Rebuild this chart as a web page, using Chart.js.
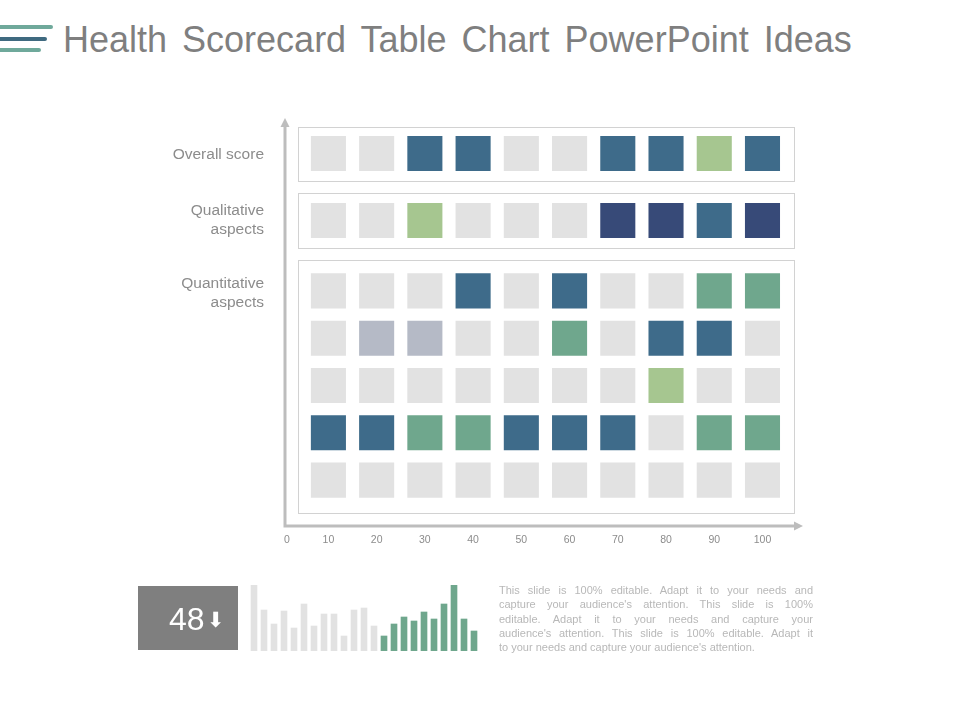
<!DOCTYPE html>
<html>
<head>
<meta charset="utf-8">
<title>Health Scorecard</title>
<script src="https://cdn.jsdelivr.net/npm/chart.js@4"></script>
<style>
    body { margin: 0; background: #fff; font-family: "Liberation Sans", Arial, sans-serif; }
    #page { position: relative; width: 960px; height: 720px; overflow: hidden; }
    canvas { position: absolute; }
    #title { position: absolute; left: 63px; top: 19px; font-size: 36px; line-height: 42px; color: #7f7f7f; word-spacing: 5px; white-space: nowrap; }
    .bar { position: absolute; left: 0; height: 4px; border-radius: 0 2px 2px 0; }
    #kpi { position: absolute; left: 138px; top: 586px; width: 100px; height: 64px; background: #7f7f7f; color: #fff; }
    #kpi b { position: absolute; left: 31px; top: 16px; font-weight: normal; font-size: 32px; line-height: 34px; }
    #kpi i { position: absolute; left: 69px; top: 24px; font: normal 21px/20px "DejaVu Sans"; }
    #note { position: absolute; left: 499px; top: 583px; width: 314px; font-size: 11px; line-height: 14.3px; color: #b8b8b8; }
    #note div { text-align: justify; text-align-last: justify; white-space: nowrap; }
    #note div:last-child { text-align-last: left; }
</style>
</head>
<body>
<div id="page">
    <div class="bar" style="top:25px;width:53px;background:#6fa99b"></div>
    <div class="bar" style="top:37px;width:47px;background:#3f6a80"></div>
    <div class="bar" style="top:48px;width:41px;background:#6fa99b"></div>
    <div id="title">Health Scorecard Table Chart PowerPoint Ideas</div>
    <canvas id="scoreChart" width="960" height="720" style="left:0;top:0"></canvas>
    <div id="kpi"><b>48</b><i>⬇</i></div>
    <canvas id="trendChart" width="230" height="66" style="left:249px;top:585px"></canvas>
    <div id="note">
        <div>This slide is 100% editable. Adapt it to your needs and</div>
        <div>capture your audience's attention. This slide is 100%</div>
        <div>editable. Adapt it to your needs and capture your</div>
        <div>audience's attention. This slide is 100% editable. Adapt it</div>
        <div>to your needs and capture your audience's attention.</div>
    </div>
</div>
<script>
// Data
const columns = [10, 20, 30, 40, 50, 60, 70, 80, 90, 100];
const xTickLabels = ["0", "10", "20", "30", "40", "50", "60", "70", "80", "90", "100"];
const overallLabel = "Overall score";
const qualitativeLabel = ["Qualitative", "aspects"];
const quantitativeLabel = ["Quantitative", "aspects"];

// G grey, B blue, N navy, T teal, L light green, S slate
const overallRow = ["G", "G", "B", "B", "G", "G", "B", "B", "L", "B"];
const qualitativeRow = ["G", "G", "L", "G", "G", "G", "N", "N", "B", "N"];
const quantitativeRows = [
    ["G", "G", "G", "B", "G", "B", "G", "G", "T", "T"],
    ["G", "S", "S", "G", "G", "T", "G", "B", "B", "G"],
    ["G", "G", "G", "G", "G", "G", "G", "L", "G", "G"],
    ["B", "B", "T", "T", "B", "B", "B", "G", "T", "T"],
    ["G", "G", "G", "G", "G", "G", "G", "G", "G", "G"]
];

const trendGrey = [66, 41, 27, 40, 23, 47, 25, 37, 37, 15, 41, 43, 25];
const trendGreen = [15, 27, 34, 30, 39, 32, 47, 66, 32, 20];

const cellColors = { G: "#e2e2e2", B: "#3e6b8a", N: "#374a78", T: "#6fa78d", L: "#a6c690", S: "#b5bac6" };

// Cells
function rowPoints(codes, y) {
    return codes.map((code, i) => ({ x: columns[i], y: y }));
}

function rowDataset(codes, y, yAxisID) {
    return {
        data: rowPoints(codes, y),
        yAxisID: yAxisID,
        pointStyle: "rect",
        pointRadius: 24.8,
        pointBorderWidth: 0,
        pointBackgroundColor: codes.map(code => cellColors[code])
    };
}

const datasets = [
    rowDataset(overallRow, overallLabel, "yOverall"),
    rowDataset(qualitativeRow, "Qualitative", "yQualitative")
];
quantitativeRows.forEach((codes, i) => datasets.push(rowDataset(codes, i, "yQuantitative")));

// Panels and arrow axes
const framePlugin = {
    id: "frame",
    beforeDatasetsDraw(chart) {
        const { ctx, chartArea, scales } = chart;
        const left = Math.round(scales.x.getPixelForValue(columns[0]) - 30) + 0.5;
        const right = Math.round(scales.x.getPixelForValue(columns[9]) + 32) + 0.5;
        const panels = [
            [scales.yOverall.getPixelForValue(0) - 27, scales.yOverall.getPixelForValue(0) + 27],
            [scales.yQualitative.getPixelForValue(0) - 27.5, scales.yQualitative.getPixelForValue(0) + 27.5],
            [scales.yQuantitative.getPixelForValue(0) - 31, scales.yQuantitative.getPixelForValue(4) + 33]
        ];
        ctx.save();
        ctx.strokeStyle = "#d2d2d2";
        ctx.lineWidth = 1;
        panels.forEach(p => ctx.strokeRect(left, Math.round(p[0]) + 0.5, right - left, Math.round(p[1] - p[0])));

        ctx.strokeStyle = "#bdbdbd";
        ctx.fillStyle = "#bdbdbd";
        ctx.lineWidth = 3;
        ctx.beginPath();
        ctx.moveTo(chartArea.left, chartArea.top + 4);
        ctx.lineTo(chartArea.left, chartArea.bottom);
        ctx.lineTo(chartArea.right - 6, chartArea.bottom);
        ctx.stroke();
        ctx.beginPath();
        ctx.moveTo(chartArea.left, chartArea.top - 2);
        ctx.lineTo(chartArea.left - 4.5, chartArea.top + 7);
        ctx.lineTo(chartArea.left + 4.5, chartArea.top + 7);
        ctx.fill();
        ctx.beginPath();
        ctx.moveTo(chartArea.right, chartArea.bottom);
        ctx.lineTo(chartArea.right - 9, chartArea.bottom - 4.5);
        ctx.lineTo(chartArea.right - 9, chartArea.bottom + 4.5);
        ctx.fill();
        ctx.restore();
    }
};

const rowTickStyle = {
    color: "#8c8c8c",
    font: { family: "Liberation Sans", size: 15.5, lineHeight: 1.22 },
    padding: 21
};

function rowAxis(labels, weight) {
    return {
        type: "category",
        labels: labels,
        offset: true,
        position: "left",
        stack: "rows",
        stackWeight: weight,
        grid: { display: false, drawTicks: false },
        border: { display: false },
        ticks: rowTickStyle,
        afterFit: s => { s.width = 285; }
    };
}

const overallAxis = rowAxis([overallLabel], 67);
overallAxis.ticks = Object.assign({}, rowTickStyle, { labelOffset: 1 });

new Chart(document.getElementById("scoreChart"), {
    type: "scatter",
    data: { datasets: datasets },
    plugins: [framePlugin],
    options: {
        responsive: false,
        animation: false,
        layout: { autoPadding: false, padding: { top: 120, right: 157, bottom: 164, left: 0 } },
        plugins: { legend: { display: false }, tooltip: { enabled: false } },
        scales: {
            x: {
                type: "linear",
                min: 1,
                max: 108.4,
                grid: { display: false, drawTicks: false },
                border: { display: false },
                afterBuildTicks: s => { s.ticks = [1.4].concat(columns).map(v => ({ value: v })); },
                afterFit: s => { s.height = 30; },
                ticks: {
                    autoSkip: false,
                    maxRotation: 0,
                    padding: 8,
                    color: "#8c8c8c",
                    font: { family: "Liberation Sans", size: 10.5 },
                    callback: (value, index) => xTickLabels[index]
                }
            },
            // stacked axes are laid out bottom-up, so the lowest block comes first
            yQuantitative: {
                type: "linear",
                reverse: true,
                min: -0.78,
                max: 4.97,
                position: "left",
                stack: "rows",
                stackWeight: 272,
                grid: { display: false, drawTicks: false },
                border: { display: false },
                afterBuildTicks: s => { s.ticks = [{ value: 0 }]; },
                afterFit: s => { s.width = 285; },
                ticks: Object.assign({}, rowTickStyle, { labelOffset: 2, callback: () => quantitativeLabel })
            },
            yQualitative: Object.assign(rowAxis(["Qualitative"], 67), {
                ticks: Object.assign({}, rowTickStyle, { callback: () => qualitativeLabel })
            }),
            yOverall: overallAxis
        }
    }
});

// Small bar strip next to the score box
const trendValues = trendGrey.concat(trendGreen);

new Chart(document.getElementById("trendChart"), {
    type: "bar",
    data: {
        labels: trendValues.map((v, i) => i + 1),
        datasets: [{
            data: trendValues,
            barThickness: 6,
            backgroundColor: trendValues.map((v, i) => i < trendGrey.length ? "#e2e2e2" : "#6fa78d")
        }]
    },
    options: {
        responsive: false,
        animation: false,
        layout: { autoPadding: false },
        plugins: { legend: { display: false }, tooltip: { enabled: false } },
        scales: {
            x: { display: false },
            y: { display: false, min: 0, max: 66 }
        }
    }
});
</script>
</body>
</html>
